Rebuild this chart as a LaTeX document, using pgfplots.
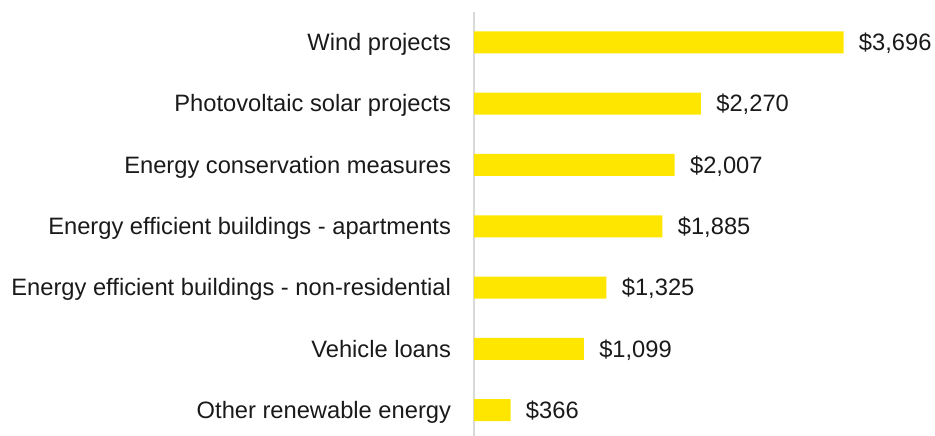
\documentclass[border=0pt]{standalone}
\usepackage{fontspec}
\setmainfont{Liberation Sans}
\usepackage{pgfplots}
\pgfplotsset{compat=1.18}
\definecolor{barylw}{HTML}{FFE600}
\definecolor{axgray}{HTML}{D9D9D9}
\definecolor{txt}{HTML}{1A1A1A}
\begin{document}
\begin{tikzpicture}[font=\fontsize{11.85bp}{14bp}\selectfont, text=txt]
\useasboundingbox (-237bp,0) rectangle (230.5bp,218bp);
\begin{axis}[
    scale only axis,
    width=200bp, height=212.2bp,
    xmin=0, xmax=4000,
    ymin=-0.5, ymax=6.42,
    y dir=reverse,
    axis x line=none,
    axis y line*=left,
    y axis line style={draw=axgray, line width=0.9bp, -},
    ytick={0,...,6},
    yticklabels={Wind projects, Photovoltaic solar projects, Energy conservation measures,
      Energy efficient buildings - apartments, Energy efficient buildings - non-residential,
      Vehicle loans, Other renewable energy},
    major tick length=0pt,
    yticklabel style={anchor=base east, inner sep=0pt, xshift=-11.3bp, yshift=-4.2bp, text=txt},
    xbar, bar width=11bp,
    clip=false,
    point meta=x,
    nodes near coords={\$\pgfmathprintnumber{\pgfplotspointmeta}},
    nodes near coords style={anchor=base west, inner sep=0pt, xshift=7.5bp, yshift=-4.2bp, text=txt,
      /pgf/number format/.cd, fixed, precision=0, 1000 sep={,}, assume math mode=true},
]
\addplot[fill=barylw, draw=none] coordinates {
    (3696,0) (2270,1) (2007,2) (1885,3) (1325,4) (1099,5) (366,6)
};
\end{axis}
\end{tikzpicture}
\end{document}
